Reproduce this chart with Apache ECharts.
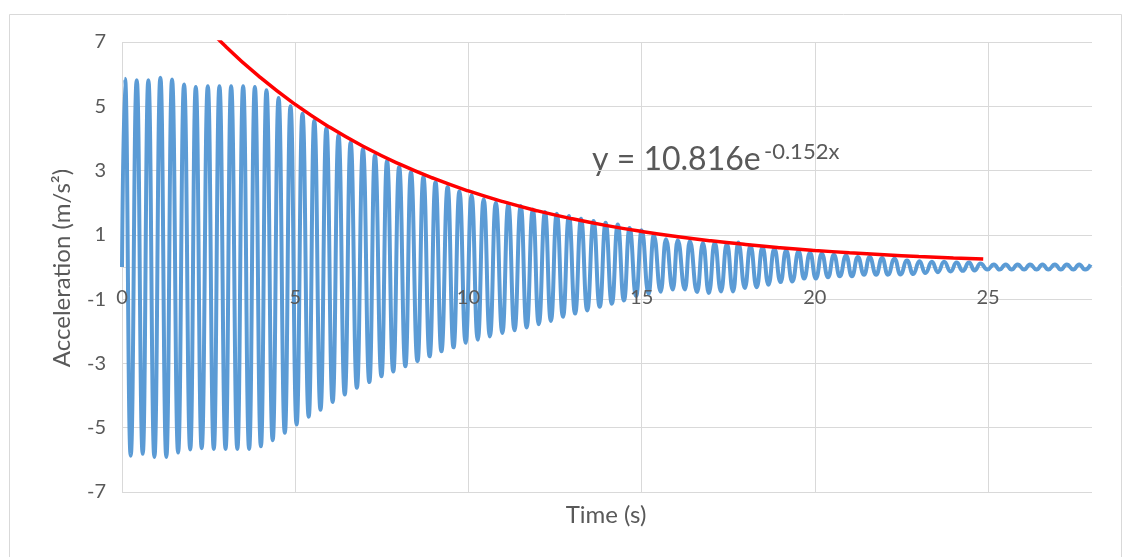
<!DOCTYPE html>
<html>
<head>
<meta charset="utf-8">
<script src="https://cdn.jsdelivr.net/npm/echarts@6/dist/echarts.min.js"></script>
<style>
html,body{margin:0;padding:0;background:#fff;}
#c{width:1126px;height:557px;}
</style>
</head>
<body>
<div id="c"></div>
<script>
// ---- data ----
const startPoint = [0, 0];
const peakTimes = [0.087,0.425,0.761,1.108,1.445,1.792,2.13,2.477,2.812,3.15,3.497,3.835,4.17,4.52,4.864,5.21,5.55,5.90,6.25,6.60,6.955,7.30,7.65,8.0,8.34,8.70,9.05,9.40,9.74,10.09,10.44,10.79,11.15,11.51,11.86,12.21,12.55,12.90,13.25,13.61,13.96,14.31,14.65,15.00,15.35,15.70,16.04,16.39,16.77,17.11,17.46,17.79,18.14,18.49,18.83,19.17,19.53,19.86,20.20,20.55,20.90,21.24,21.58,21.94,22.30,22.66,23.02,23.38,23.73,24.09,24.45,24.78,25.17,25.51,25.85,26.21,26.57,26.93,27.27,27.63,27.96];
const peakValues = [5.86,5.81,5.81,5.89,5.83,5.68,5.60,5.62,5.62,5.62,5.62,5.60,5.50,5.26,5.00,4.77,4.55,4.32,4.10,3.87,3.66,3.47,3.30,3.11,2.95,2.80,2.64,2.49,2.35,2.23,2.11,2.00,1.95,1.90,1.79,1.71,1.66,1.59,1.50,1.43,1.38,1.32,1.21,1.14,0.99,0.86,0.83,0.80,0.75,0.76,0.72,0.76,0.67,0.62,0.57,0.52,0.49,0.44,0.41,0.38,0.36,0.31,0.31,0.28,0.26,0.20,0.18,0.16,0.16,0.14,0.14,0.11,0.08,0.08,0.08,0.08,0.08,0.08,0.08,0.08,0.08];
const troughTimes = [0.251,0.598,0.935,1.28,1.62,1.97,2.30,2.65,2.99,3.33,3.67,4.01,4.35,4.70,5.04,5.39,5.73,6.08,6.43,6.78,7.14,7.49,7.83,8.18,8.53,8.88,9.22,9.57,9.92,10.27,10.62,10.98,11.33,11.68,12.03,12.38,12.73,13.08,13.43,13.79,14.14,14.49,14.84,15.20,15.55,15.90,16.25,16.60,16.94,17.29,17.64,17.98,18.32,18.66,19.01,19.35,19.69,20.03,20.38,20.72,21.07,21.42,21.77,22.11,22.47,22.84,23.19,23.55,23.92,24.27,24.61,24.98,25.33,25.68,26.04,26.40,26.74,27.10,27.46,27.80];
const troughValues = [-5.87,-5.81,-5.91,-5.91,-5.77,-5.68,-5.64,-5.66,-5.66,-5.66,-5.66,-5.58,-5.39,-5.16,-4.90,-4.66,-4.44,-4.20,-3.97,-3.76,-3.58,-3.40,-3.25,-3.09,-2.93,-2.78,-2.62,-2.50,-2.36,-2.26,-2.16,-2.05,-1.97,-1.88,-1.78,-1.68,-1.55,-1.45,-1.35,-1.24,-1.14,-1.04,-0.90,-0.83,-0.77,-0.70,-0.70,-0.78,-0.81,-0.76,-0.76,-0.65,-0.63,-0.55,-0.47,-0.45,-0.36,-0.36,-0.32,-0.29,-0.29,-0.24,-0.24,-0.24,-0.23,-0.22,-0.19,-0.16,-0.14,-0.12,-0.11,-0.08,-0.08,-0.08,-0.08,-0.08,-0.08,-0.08,-0.08,-0.08];

// exponential trendline y = 10.816e^(-0.152x), values at listed x
const trendX = [0.09,1,2,3,4,5,6,7,8,9,10,11,12,13,14,15,16,17,18,19,20,21,22,23,24,24.86];
const trendY = [10.669,9.291,7.981,6.855,5.889,5.058,4.345,3.732,3.206,2.754,2.366,2.032,1.745,1.499,1.288,1.106,0.950,0.816,0.701,0.602,0.517,0.444,0.382,0.328,0.282,0.247];

const xTicks = [0,5,10,15,20,25];
const yTicks = [-7,-5,-3,-1,1,3,5,7];
const xTitle = 'Time (s)';
const yTitle = 'Acceleration (m/s²)';
const eqMain = 'y = 10.816e';
const eqSup = '-0.152x';

// ---- build ----
const accel = [startPoint];
for (let i = 0; i < peakTimes.length; i++) accel.push([peakTimes[i], peakValues[i]]);
for (let i = 0; i < troughTimes.length; i++) accel.push([troughTimes[i], troughValues[i]]);
accel.sort((a, b) => a[0] - b[0]);
const trend = trendX.map((x, i) => [x, trendY[i]]);

const FONT = 'Lato';
const GRAY = '#595959';
const GRID = '#D9D9D9';
const GRID_TOP = 42, GRID_H = 450;
const Y_MIN = -7, Y_MAX = 7;
const X_MIN = 0, X_MAX = 28;
// x axis crosses the y axis at value 0: shift it up from the bottom edge
const xAxisOffset = -GRID_H * (0 - Y_MIN) / (Y_MAX - Y_MIN);
const xFmt = v => (xTicks.indexOf(v) >= 0 ? String(v) : '');

const chart = echarts.init(document.getElementById('c'), null, {renderer: 'canvas'});
chart.setOption({
  animation: false,
  backgroundColor: '#fff',
  textStyle: {fontFamily: FONT},
  grid: {left: 122, top: GRID_TOP, width: 970, height: GRID_H, containLabel: false},
  xAxis: [
    { // tick labels, drawn above the data
      type: 'value', min: X_MIN, max: X_MAX, interval: 5, position: 'bottom', offset: xAxisOffset, z: 10,
      axisLine: {show: false, onZero: false},
      axisTick: {show: false},
      axisLabel: {color: GRAY, fontSize: 20, fontFamily: FONT, margin: 21, formatter: xFmt},
      splitLine: {show: false}
    },
    { // zero line and vertical gridlines, drawn below the data
      type: 'value', min: X_MIN, max: X_MAX, interval: 5, position: 'bottom', offset: xAxisOffset, z: 0,
      axisLine: {show: true, onZero: false, lineStyle: {color: GRID, width: 1}},
      axisTick: {show: false},
      axisLabel: {show: false},
      splitLine: {show: true, showMaxLine: false, lineStyle: {color: GRID, width: 1}}
    }
  ],
  yAxis: {
    type: 'value', min: Y_MIN, max: Y_MAX, interval: 2,
    axisLine: {show: false, onZero: false},
    axisTick: {show: false},
    axisLabel: {
      color: GRAY, fontSize: 20, fontFamily: FONT, margin: 16,
      formatter: v => (yTicks.indexOf(v) >= 0 ? String(v) : '')
    },
    splitLine: {show: true, lineStyle: {color: GRID, width: 1}}
  },
  series: [
    {
      type: 'line', xAxisIndex: 0, data: accel, showSymbol: false, symbol: 'none',
      smooth: 0.5, smoothMonotone: 'x', clip: true,
      lineStyle: {color: '#5B9BD5', width: 4}, z: 2
    },
    {
      type: 'line', xAxisIndex: 0, data: trend, showSymbol: false, symbol: 'none',
      smooth: true, clip: true,
      lineStyle: {color: '#FF0000', width: 3.5}, z: 3
    }
  ],
  graphic: [
    {type: 'rect', left: 7, top: 12, z: -10, silent: true,
     shape: {x: 0.5, y: 0.5, width: 1112, height: 560},
     style: {fill: 'none', stroke: GRID, lineWidth: 1}},
    {type: 'text', x: 62, y: 268, rotation: Math.PI / 2, silent: true,
     style: {text: yTitle, fill: GRAY, fontSize: 24, fontFamily: FONT, align: 'center', verticalAlign: 'middle'}},
    {type: 'text', x: 606, y: 515, silent: true,
     style: {text: xTitle, fill: GRAY, fontSize: 24, fontFamily: FONT, align: 'center', verticalAlign: 'middle'}},
    {type: 'text', x: 592, y: 160, silent: true,
     style: {text: eqMain, fill: GRAY, fontSize: 32, fontFamily: FONT, align: 'left', verticalAlign: 'middle'}},
    {type: 'text', x: 764, y: 152, silent: true,
     style: {text: eqSup, fill: GRAY, fontSize: 22, fontFamily: FONT, align: 'left', verticalAlign: 'middle'}}
  ]
});
</script>
</body>
</html>
